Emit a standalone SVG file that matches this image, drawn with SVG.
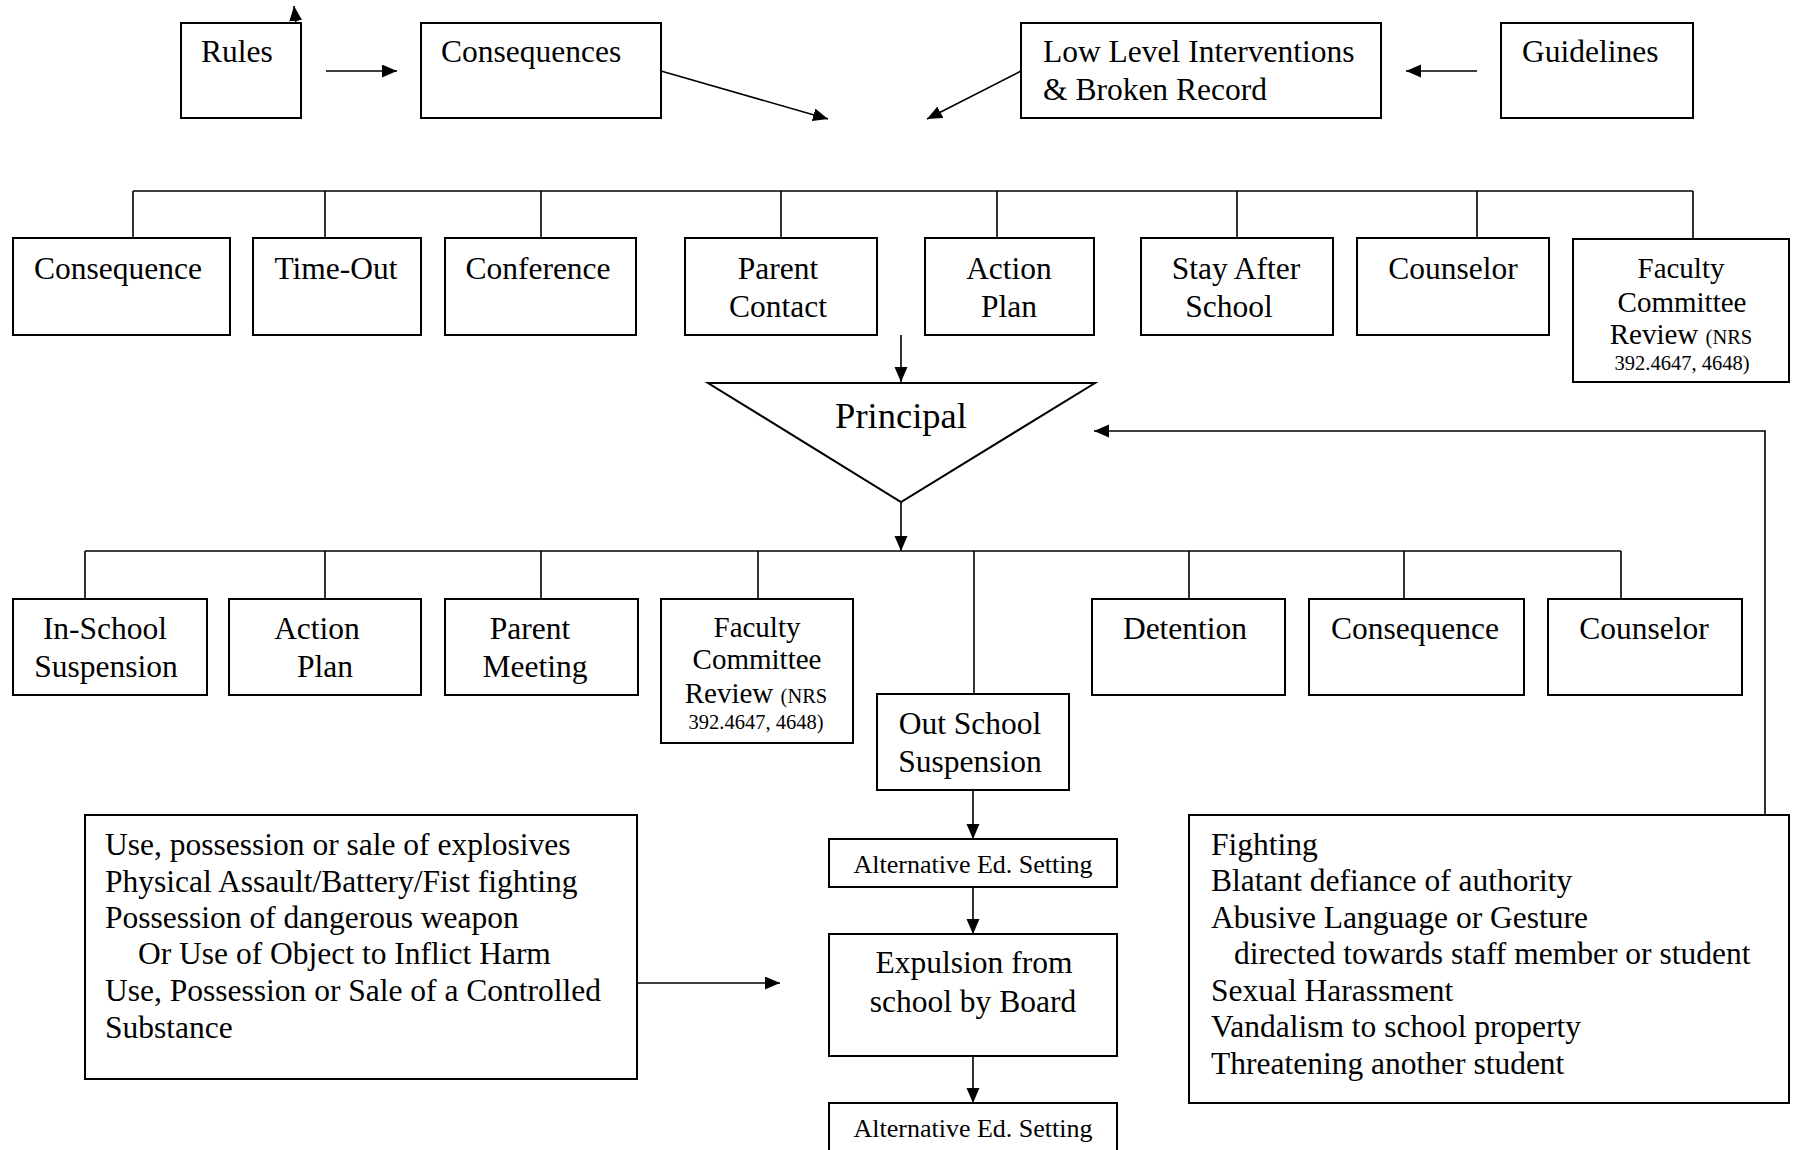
<svg xmlns="http://www.w3.org/2000/svg" width="1798" height="1150" viewBox="0 0 1798 1150">
<style>
  .box { fill: #ffffff; stroke: #000000; stroke-width: 2; }
  .ln { fill: none; stroke: #000000; stroke-width: 1.6; }
  .arr { fill: none; stroke: #000000; stroke-width: 1.6; marker-end: url(#ah); }
  text { font-family: "Liberation Serif", "Times New Roman", serif; fill: #000000; font-size: 31.5px; }
  .c { text-anchor: middle; }
  .fac { font-size: 29px; }
  .sm { font-size: 20.5px; }
  .alt { font-size: 26px; }
  .big { font-size: 36.5px; }
</style>
<defs>
  <marker id="ah" markerUnits="userSpaceOnUse" markerWidth="16" markerHeight="14" refX="15" refY="6.5" orient="auto">
    <path d="M0,0 L15,6.5 L0,13 Z" fill="#000000"/>
  </marker>
</defs>
<rect width="1798" height="1150" fill="#ffffff"/>

<g id="connectors">
  <path class="arr" d="M296,24 L294,6"/>
  <path class="arr" d="M326,71 L397,71"/>
  <path class="arr" d="M661,71 L828,119"/>
  <path class="arr" d="M1021,71 L927,119"/>
  <path class="arr" d="M1477,71 L1406,71"/>
  <path class="ln" d="M133,191 L1693,191"/>
  <path class="ln" d="M133,191 V238 M325,191 V238 M541,191 V238 M781,191 V238 M997,191 V238 M1237,191 V238 M1477,191 V238 M1693,191 V239"/>
  <path class="arr" d="M901,335 L901,382"/>
  <path class="arr" d="M901,502 L901,551"/>
  <path class="ln" d="M85,551 L1621,551"/>
  <path class="ln" d="M85,551 V599 M325,551 V599 M541,551 V599 M758,551 V599 M974,551 V694 M1189,551 V599 M1404,551 V599 M1621,551 V599"/>
  <path class="arr" d="M1765,815 L1765,431 L1094,431"/>
  <path class="arr" d="M973,790 L973,839"/>
  <path class="arr" d="M973,887 L973,934"/>
  <path class="arr" d="M973,1056 L973,1103"/>
  <path class="arr" d="M637,983 L780,983"/>
</g>

<g id="rules"><rect class="box" x="181" y="23" width="120" height="95"/><text x="201" y="62">Rules</text></g>
<g id="consequences"><rect class="box" x="421" y="23" width="240" height="95"/><text x="441" y="62">Consequences</text></g>
<g id="low-level"><rect class="box" x="1021" y="23" width="360" height="95"/><text x="1043" y="62">Low Level Interventions</text><text x="1043" y="100">&amp; Broken Record</text></g>
<g id="guidelines"><rect class="box" x="1501" y="23" width="192" height="95"/><text x="1522" y="62">Guidelines</text></g>

<g id="t-consequence"><rect class="box" x="13" y="238" width="217" height="97"/><text class="c" x="118" y="279">Consequence</text></g>
<g id="t-timeout"><rect class="box" x="253" y="238" width="168" height="97"/><text class="c" x="336" y="279">Time-Out</text></g>
<g id="t-conference"><rect class="box" x="445" y="238" width="191" height="97"/><text class="c" x="538" y="279">Conference</text></g>
<g id="t-parent-contact"><rect class="box" x="685" y="238" width="192" height="97"/><text class="c" x="778" y="279">Parent</text><text class="c" x="778" y="317">Contact</text></g>
<g id="t-action-plan"><rect class="box" x="925" y="238" width="169" height="97"/><text class="c" x="1009" y="279">Action</text><text class="c" x="1009" y="317">Plan</text></g>
<g id="t-stay-after"><rect class="box" x="1141" y="238" width="192" height="97"/><text class="c" x="1236" y="279">Stay After</text><text class="c" x="1229" y="317">School</text></g>
<g id="t-counselor"><rect class="box" x="1357" y="238" width="192" height="97"/><text class="c" x="1453" y="279">Counselor</text></g>
<g id="t-faculty"><rect class="box" x="1573" y="239" width="216" height="143"/><text class="c fac" x="1681" y="278">Faculty</text><text class="c fac" x="1682" y="312">Committee</text><text class="c fac" x="1681" y="344">Review <tspan class="sm">(NRS</tspan></text><text class="c sm" x="1682" y="370">392.4647, 4648)</text></g>

<g id="principal"><polygon class="box" points="708,383 1095,383 901,502"/><text class="c big" x="901" y="428">Principal</text></g>

<g id="b-in-school"><rect class="box" x="13" y="599" width="194" height="96"/><text class="c" x="105" y="639">In-School</text><text class="c" x="106" y="677">Suspension</text></g>
<g id="b-action-plan"><rect class="box" x="229" y="599" width="192" height="96"/><text class="c" x="317" y="639">Action</text><text class="c" x="325" y="677">Plan</text></g>
<g id="b-parent-meeting"><rect class="box" x="445" y="599" width="193" height="96"/><text class="c" x="530" y="639">Parent</text><text class="c" x="535" y="677">Meeting</text></g>
<g id="b-faculty"><rect class="box" x="661" y="599" width="192" height="144"/><text class="c fac" x="757" y="637">Faculty</text><text class="c fac" x="757" y="669">Committee</text><text class="c fac" x="756" y="703">Review <tspan class="sm">(NRS</tspan></text><text class="c sm" x="756" y="729">392.4647, 4648)</text></g>
<g id="b-out-school"><rect class="box" x="877" y="694" width="192" height="96"/><text class="c" x="970" y="734">Out School</text><text class="c" x="970" y="772">Suspension</text></g>
<g id="b-detention"><rect class="box" x="1092" y="599" width="193" height="96"/><text class="c" x="1185" y="639">Detention</text></g>
<g id="b-consequence"><rect class="box" x="1309" y="599" width="215" height="96"/><text class="c" x="1415" y="639">Consequence</text></g>
<g id="b-counselor"><rect class="box" x="1548" y="599" width="194" height="96"/><text class="c" x="1644" y="639">Counselor</text></g>

<g id="alt-ed-1"><rect class="box" x="829" y="839" width="288" height="48"/><text class="c alt" x="973" y="873">Alternative Ed. Setting</text></g>
<g id="expulsion"><rect class="box" x="829" y="934" width="288" height="122"/><text class="c" x="974" y="973">Expulsion from</text><text class="c" x="973" y="1012">school by Board</text></g>
<g id="alt-ed-2"><rect class="box" x="829" y="1103" width="288" height="60"/><text class="c alt" x="973" y="1137">Alternative Ed. Setting</text></g>

<g id="severe-offenses"><rect class="box" x="85" y="815" width="552" height="264"/>
  <text x="105" y="855">Use, possession or sale of explosives</text>
  <text x="105" y="892">Physical Assault/Battery/Fist fighting</text>
  <text x="105" y="928">Possession of dangerous weapon</text>
  <text x="138" y="964">Or Use of Object to Inflict Harm</text>
  <text x="105" y="1001">Use, Possession or Sale of a Controlled</text>
  <text x="105" y="1038">Substance</text>
</g>
<g id="offenses"><rect class="box" x="1189" y="815" width="600" height="288"/>
  <text x="1211" y="855">Fighting</text>
  <text x="1211" y="891">Blatant defiance of authority</text>
  <text x="1211" y="928">Abusive Language or Gesture</text>
  <text x="1234" y="964">directed towards staff member or student</text>
  <text x="1211" y="1001">Sexual Harassment</text>
  <text x="1211" y="1037">Vandalism to school property</text>
  <text x="1211" y="1074">Threatening another student</text>
</g>
</svg>
